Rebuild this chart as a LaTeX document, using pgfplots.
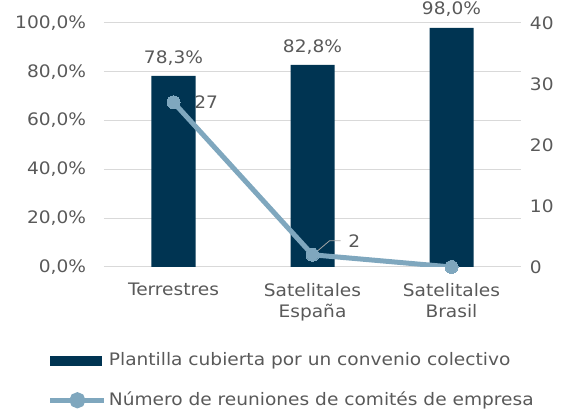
\documentclass[border=0pt]{standalone}
\usepackage{pgfplots}
\pgfplotsset{compat=1.18}
\usepackage{fontspec}
\setmainfont[FakeStretch=1.08]{DejaVu Sans}
\definecolor{barc}{HTML}{003452}
\definecolor{linec}{HTML}{7FA7BE}
\definecolor{txt}{HTML}{595959}
\definecolor{gridc}{HTML}{D9D9D9}
\definecolor{leadc}{HTML}{A6A6A6}

\begin{document}
\fontsize{17.2}{21.5}\selectfont
\begin{tikzpicture}
\useasboundingbox (0,0) rectangle (565pt,411pt);
\pgfplotsset{
  base/.style={
    at={(104pt,144pt)}, anchor=south west,
    scale only axis, width=417pt, height=244pt,
    xmin=-0.5, xmax=2.5,
    /pgf/number format/assume math mode=true,
    axis line style={draw=none}, tick style={draw=none},
    tick label style={text=txt},
  }
}
% bars: share of staff covered
\begin{axis}[base,
  ymin=0, ymax=100, ytick={0,20,...,100},
  yticklabel={\pgfmathprintnumber[fixed,fixed zerofill,precision=1,use comma]{\tick}\%},
  yticklabel style={xshift=-12pt},
  ymajorgrids, grid style={gridc, line width=1pt},
  xtick={0,1,2},
  xticklabels={Terrestres,{Satelitales\\España},{Satelitales\\Brasil}},
  xticklabel style={align=center, yshift=-6pt},
  ybar, bar width=44pt,
  nodes near coords={\pgfmathprintnumber[fixed,fixed zerofill,precision=1,use comma]{\pgfplotspointmeta}\%},
  nodes near coords style={text=txt, yshift=5pt},
]
  \addplot[fill=barc, draw=none] coordinates {(0,78.3) (1,82.8) (2,98.0)};
\end{axis}
% line: number of meetings
\begin{axis}[base,
  axis x line=none, axis y line*=right,
  ymin=0, ymax=40, ytick={0,10,...,40},
  yticklabel style={xshift=3pt},
  legend style={draw=none, fill=none, text=txt,
    at={(axis description cs:-0.135,-0.465)}, anchor=west,
    row sep=20pt, inner sep=0pt},
  legend cell align=left,
]
  \addlegendimage{legend image code/.code={\fill[barc] (0pt,-4.5pt) rectangle (51pt,4.5pt);}}
  \addlegendentry{Plantilla cubierta por un convenio colectivo}
  \addplot[linec, line width=5pt, mark=*, mark size=6.5pt,
    mark options={solid, fill=linec, draw=linec, line width=0pt},
    legend image code/.code={\draw[linec, line width=5pt] (0pt,0pt) -- (54pt,0pt);
      \fill[linec] (27pt,0pt) circle (5.5pt);}]
    coordinates {(0,27) (1,2) (2,0)};
  \addlegendentry{Número de reuniones de comités de empresa}
  \node[text=txt, anchor=west] at (axis cs:0,27) [xshift=15pt] {27};
  \draw[leadc, line width=0.8pt] (axis cs:1,2) ++(4pt,3pt) -- ++(13pt,11pt) -- ++(11pt,0pt);
  \node[text=txt, anchor=west] at (axis cs:1,2) [xshift=30pt, yshift=14pt] {2};
\end{axis}
\end{tikzpicture}
\end{document}
